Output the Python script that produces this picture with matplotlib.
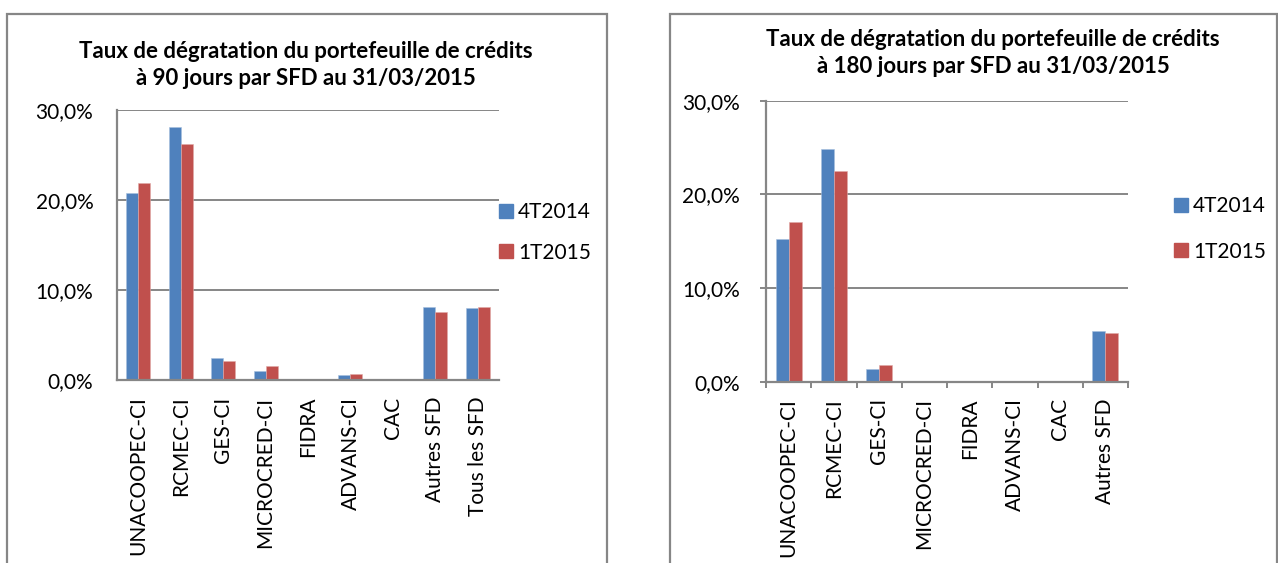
import matplotlib
matplotlib.use("Agg")
import matplotlib.pyplot as plt
from matplotlib.patches import Rectangle
from matplotlib.ticker import FuncFormatter, MultipleLocator, FixedLocator
import numpy as np

plt.rcParams["font.family"] = ["Lato", "DejaVu Sans"]

# data (percent)
cats_90 = ["UNACOOPEC-CI", "RCMEC-CI", "GES-CI", "MICROCRED-CI", "FIDRA",
           "ADVANS-CI", "CAC", "Autres SFD", "Tous les SFD"]
t4_2014_90 = [20.8, 28.15, 2.44, 1.0, 0.0, 0.52, 0.0, 8.11, 8.0]
t1_2015_90 = [21.85, 26.2, 2.07, 1.52, 0.0, 0.67, 0.0, 7.56, 8.11]

cats_180 = ["UNACOOPEC-CI", "RCMEC-CI", "GES-CI", "MICROCRED-CI", "FIDRA",
            "ADVANS-CI", "CAC", "Autres SFD"]
t4_2014_180 = [15.27, 24.84, 1.32, 0.0, 0.0, 0.0, 0.0, 5.37]
t1_2015_180 = [17.0, 22.5, 1.78, 0.0, 0.0, 0.0, 0.0, 5.16]

series_names = ["4T2014", "1T2015"]
titles = ["Taux de dégratation du portefeuille de crédits\nà 90 jours par SFD au 31/03/2015",
          "Taux de dégratation du portefeuille de crédits\nà 180 jours par SFD au 31/03/2015"]

BLUE = "#4F81BD"
RED = "#C0504D"
GRAY = "#868686"
W, H = 1278, 563
FS = 15

fig = plt.figure(figsize=(W / 100, H / 100), dpi=100)


def fx(px):
    return px / W


def fy(py):
    return 1 - py / H


# outer chart frames
for x0, x1 in [(7, 607), (670, 1277)]:
    fig.patches.append(Rectangle((fx(x0), -0.1), fx(x1 - x0), fy(14) + 0.1,
                                 transform=fig.transFigure, fill=False,
                                 edgecolor=GRAY, linewidth=1.6))

pct = FuncFormatter(lambda v, _: f"{v:.1f}".replace(".", ",") + "%")


def draw(ax, cats, a, b, bar_w, ticks):
    x = np.arange(len(cats))
    ax.bar(x - bar_w / 2, a, bar_w, color=BLUE, edgecolor="#A7BFDE", linewidth=0.4, zorder=3)
    ax.bar(x + bar_w / 2, b, bar_w, color=RED, edgecolor="#E0A9A7", linewidth=0.4, zorder=3)
    ax.set_xlim(-0.5, len(cats) - 0.5)
    ax.set_ylim(0, 30)
    ax.yaxis.set_major_locator(MultipleLocator(10))
    ax.yaxis.set_major_formatter(pct)
    ax.grid(axis="y", color=GRAY, linewidth=1.4, zorder=0)
    ax.set_axisbelow(True)
    for s in ["top", "right"]:
        ax.spines[s].set_visible(False)
    for s in ["left", "bottom"]:
        ax.spines[s].set_color(GRAY)
        ax.spines[s].set_linewidth(1.6)
        ax.spines[s].set_zorder(4)
    ax.set_xticks(x)
    ax.set_xticklabels(cats, rotation=90)
    if ticks:
        ax.xaxis.set_minor_locator(FixedLocator(np.arange(len(cats) + 1) - 0.5))
        ax.tick_params(axis="x", which="major", length=0, pad=12, labelsize=FS)
        ax.tick_params(axis="x", which="minor", length=4, width=1.4, color=GRAY)
        ax.tick_params(axis="y", length=4, width=1.4, color=GRAY, pad=15, labelsize=FS)
    else:
        ax.tick_params(axis="x", length=0, pad=12, labelsize=FS)
        ax.tick_params(axis="y", length=0, pad=17, labelsize=FS)


ax1 = fig.add_axes([fx(117), fy(380), fx(499 - 117), (380 - 110) / H])
draw(ax1, cats_90, t4_2014_90, t1_2015_90, 0.283, False)

ax2 = fig.add_axes([fx(766), fy(381.7), fx(1128 - 766), (381.7 - 100.7) / H])
draw(ax2, cats_180, t4_2014_180, t1_2015_180, 0.287, True)

fig.text(fx(306), fy(65), titles[0], ha="center", va="center",
         fontsize=16, fontweight="bold", linespacing=1.4)
fig.text(fx(993), fy(53), titles[1], ha="center", va="center",
         fontsize=16, fontweight="bold", linespacing=1.4)

for lx, ly, sp in [(499, 232.5, 0.97), (1174, 229, 1.2)]:
    handles = [Rectangle((0, 0), 1, 1, color=BLUE), Rectangle((0, 0), 1, 1, color=RED)]
    fig.legend(handles, series_names, loc="center left",
               bbox_to_anchor=(fx(lx), fy(ly)), frameon=False, fontsize=FS,
               handlelength=0.67, handleheight=0.67, handletextpad=0.25,
               labelspacing=sp, borderpad=0, borderaxespad=0)

fig.savefig("out.png", dpi=100)
